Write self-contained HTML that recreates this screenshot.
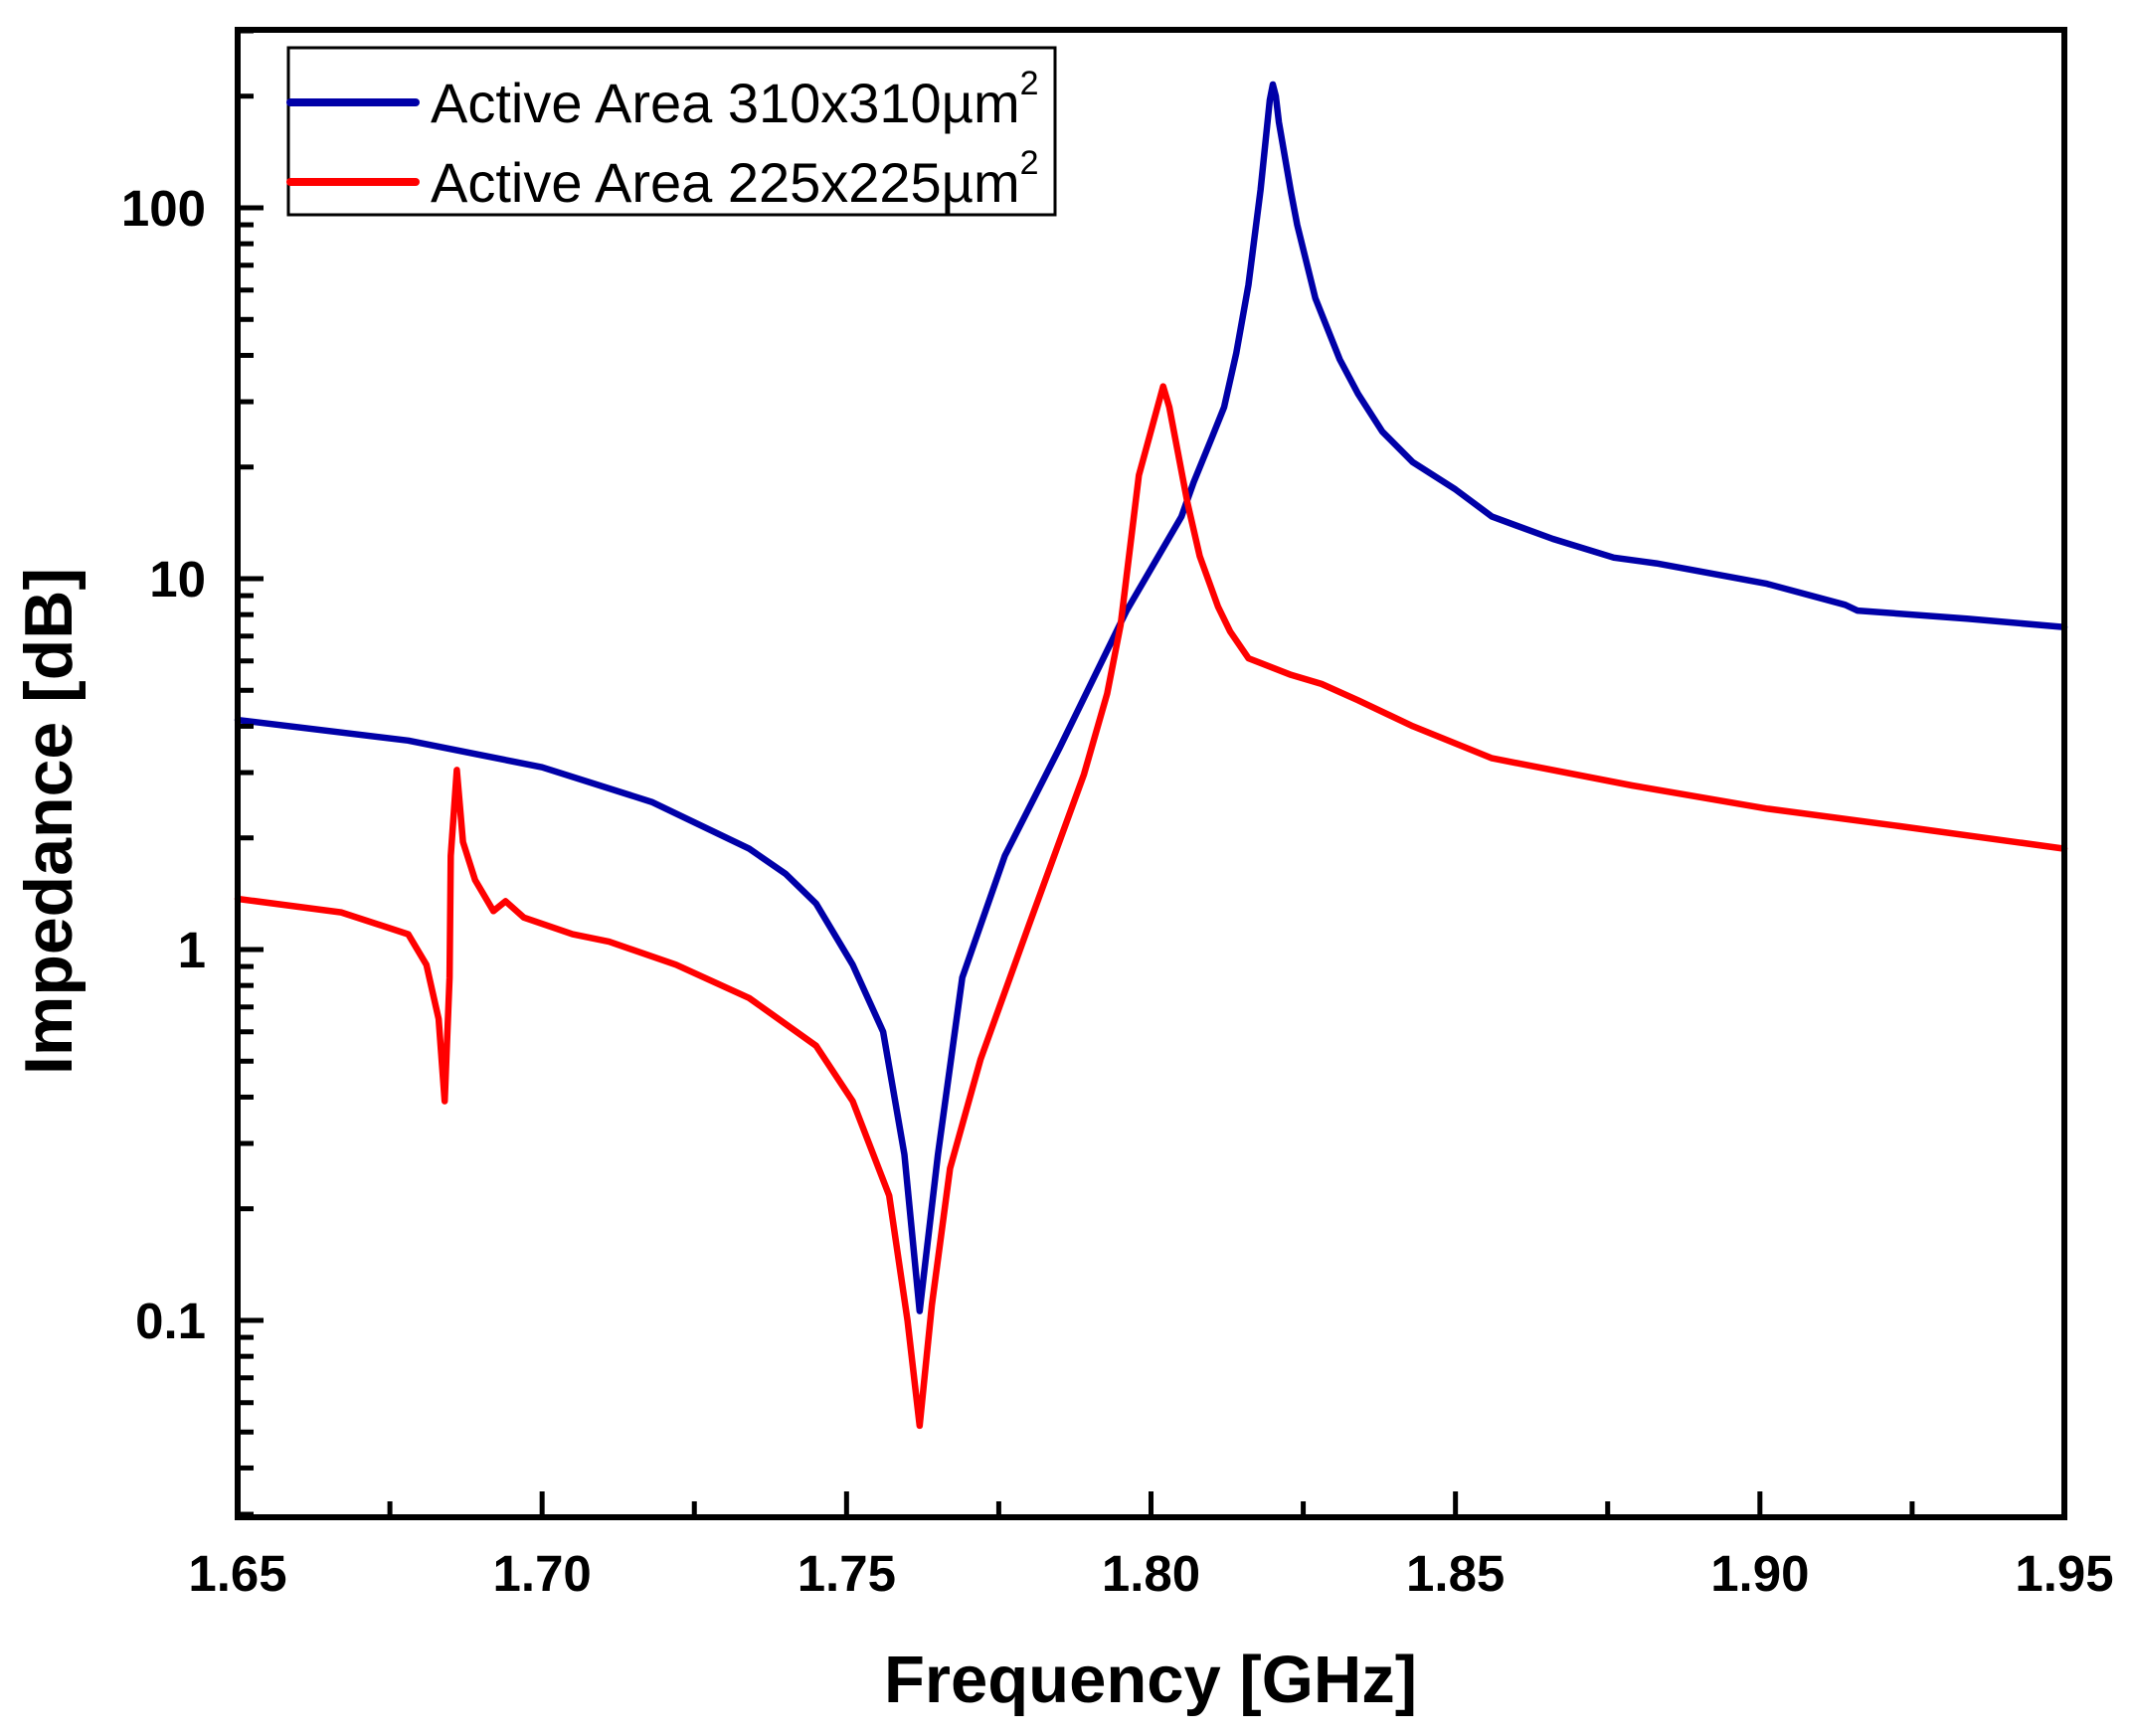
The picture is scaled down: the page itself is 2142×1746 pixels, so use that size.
<!DOCTYPE html>
<html><head><meta charset="utf-8"><style>
html,body{margin:0;padding:0;background:#fff;}
svg{display:block;font-family:"Liberation Sans",Arial,sans-serif;}
</style></head><body>
<svg id="chart" width="2142" height="1746" viewBox="0 0 2142 1746" xmlns="http://www.w3.org/2000/svg">
<g id="plot"></g>
</svg>
<script>
const freqBlue = [1.65,1.678,1.70,1.718,1.734,1.740,1.745,1.751,1.756,1.7595,1.762,1.765,1.769,1.776,1.785,1.796,1.805,1.807,1.810,1.812,1.814,1.816,1.818,1.8195,1.820,1.8205,1.821,1.823,1.824,1.827,1.831,1.834,1.838,1.843,1.850,1.856,1.866,1.876,1.883,1.901,1.914,1.916,1.934,1.95];
const zBlue = [4.16,3.66,3.1,2.5,1.87,1.6,1.33,0.91,0.60,0.28,0.106,0.28,0.84,1.79,3.5,8.2,14.7,18.2,24,29,40.5,62,112,195,215,200,170,110,90,57,39,31.5,24.9,20.6,17.4,14.7,12.8,11.4,11.0,9.7,8.5,8.2,7.8,7.4];
const freqRed = [1.65,1.667,1.678,1.681,1.683,1.684,1.6848,1.685,1.686,1.687,1.689,1.692,1.694,1.697,1.705,1.711,1.722,1.734,1.745,1.751,1.757,1.760,1.762,1.764,1.767,1.772,1.780,1.789,1.7928,1.795,1.798,1.802,1.803,1.806,1.808,1.811,1.813,1.816,1.823,1.828,1.834,1.843,1.856,1.879,1.901,1.923,1.95];
const zRed = [1.37,1.26,1.1,0.91,0.65,0.39,0.84,1.79,3.05,1.95,1.54,1.27,1.35,1.22,1.1,1.05,0.91,0.74,0.55,0.39,0.217,0.10,0.052,0.11,0.257,0.505,1.17,2.97,4.9,7.5,19,33,29,16,11.5,8.4,7.2,6.1,5.5,5.2,4.7,4.0,3.28,2.77,2.4,2.15,1.87];
const xTickLabels = ["1.65","1.70","1.75","1.80","1.85","1.90","1.95"];
const xTickValues = [1.65,1.70,1.75,1.80,1.85,1.90,1.95];
const yTickLabels = ["0.1","1","10","100"];
const yTickValues = [0.1,1,10,100];

const L=239,R=2076,T=30,B=1526;
const xMin=1.65,xMax=1.95;
function xs(f){return L+(f-xMin)/(xMax-xMin)*(R-L);}
function ys(v){return 955-Math.log10(v)*373;}
const NS="http://www.w3.org/2000/svg";
const g=document.getElementById('plot');
function mk(tag,attrs,parent){const e=document.createElementNS(NS,tag);for(const k in attrs)e.setAttribute(k,attrs[k]);(parent||g).appendChild(e);return e;}

function series(fx,fy,color,name){
  const d=fx.map((f,i)=>(i?'L':'M')+xs(f).toFixed(1)+' '+ys(fy[i]).toFixed(1)).join(' ');
  const p=mk('path',{d:d,fill:'none',stroke:color,'stroke-width':6.5,'stroke-linejoin':'round','stroke-linecap':'round'});
  
  
}
series(freqBlue,zBlue,'#0000a8','series-310um');
series(freqRed,zRed,'#ff0000','series-225um');

for(let i=0;i<=12;i++){
  const f=xMin+i*0.025, x=xs(f), major=i%2===0;
  const t=mk('line',{x1:x,x2:x,y1:B,y2:B-(major?26:16),stroke:'#000','stroke-width':5});
  
  
}
xTickValues.forEach((v,i)=>{
  const t=mk('text',{x:xs(v),y:1600,'font-size':51,'font-weight':'bold','text-anchor':'middle'});
  t.textContent=xTickLabels[i];
  
  
});
for(let e=-2;e<=2;e++){
  for(let m=1;m<=9;m++){
    const v=m*Math.pow(10,e), y=ys(v);
    if(y<T||y>B)continue;
    const t=mk('line',{x1:L,x2:L+(m===1?26:16),y1:y,y2:y,stroke:'#000','stroke-width':5});
    
    
  }
}
yTickValues.forEach((v,i)=>{
  const t=mk('text',{x:207,y:ys(v)+18,'font-size':51,'font-weight':'bold','text-anchor':'end'});
  t.textContent=yTickLabels[i];
  
  
});
const fr=mk('rect',{x:L,y:T,width:R-L,height:B-T,fill:'none',stroke:'#000','stroke-width':6});


const xt=mk('text',{x:1157,y:1712,'font-size':67,'font-weight':'bold','text-anchor':'middle'});
xt.textContent='Frequency [GHz]';


const yt=mk('text',{x:0,y:0,'font-size':68,'font-weight':'bold','text-anchor':'middle',transform:'translate(72,826) rotate(-90)'});
yt.textContent='Impedance [dB]';


const lg=mk('g',{});


mk('rect',{x:290,y:48,width:771,height:168,fill:'#fff',stroke:'#000','stroke-width':3},lg);
const entries=[['#0000a8','310x310'],['#ff0000','225x225']];
entries.forEach((en,i)=>{
  const y=103+i*80;
  const eg=mk('g',{},lg);
  
  
  mk('line',{x1:292,x2:418,y1:y,y2:y,stroke:en[0],'stroke-width':8,'stroke-linecap':'round'},eg);
  const t=mk('text',{x:433,y:y+20,'font-size':56},eg);
  t.textContent='Active Area '+en[1]+'\u00b5m';
  const s=mk('tspan',{'font-size':34,dy:-28},t);
  s.textContent='2';
});
</script>
</body></html>
